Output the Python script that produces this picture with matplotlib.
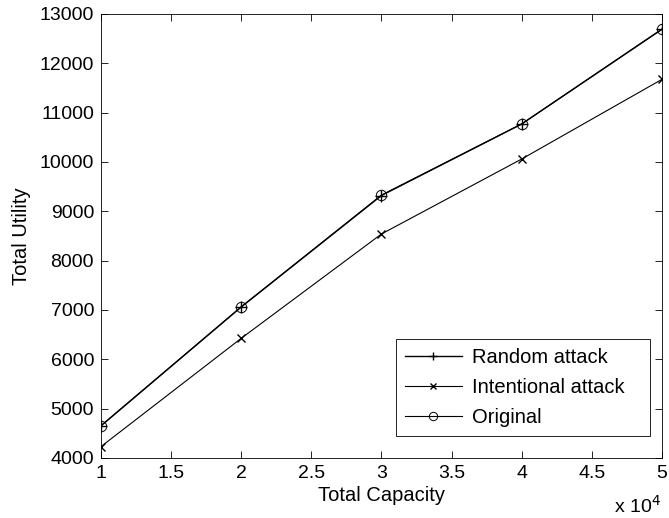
import matplotlib.pyplot as plt

plt.rcParams['font.family'] = ['Liberation Sans', 'DejaVu Sans']

# data (x in units of 10^4)
capacity = [1, 2, 3, 4, 5]
random_attack = [4650, 7060, 9320, 10770, 12690]
intentional_attack = [4230, 6425, 8540, 10060, 11675]
original = [4655, 7065, 9330, 10772, 12695]
series_names = ['Random attack', 'Intentional attack', 'Original']
xticks = [1, 1.5, 2, 2.5, 3, 3.5, 4, 4.5, 5]
xticklabels = ['1', '1.5', '2', '2.5', '3', '3.5', '4', '4.5', '5']
yticks = [4000, 5000, 6000, 7000, 8000, 9000, 10000, 11000, 12000, 13000]

fs = 14

fig = plt.figure(figsize=(6.69, 5.18), dpi=100)
ax = fig.add_axes([0.151, 0.116, 0.8385, 0.857])

# trailing spaces give the MATLAB-like padding on the right of the legend box
ax.plot(capacity, random_attack, 'k-', marker='+', markersize=8, lw=1.0,
        label=series_names[0] + '   ')
ax.plot(capacity, intentional_attack, 'k-', marker='x', markersize=6, lw=0.8,
        label=series_names[1] + '   ')
ax.plot(capacity, original, 'k-', marker='o', markersize=7.5, markerfacecolor='none',
        markeredgewidth=0.7, lw=0.8, label=series_names[2] + '   ')

ax.set_xlim(1, 5)
ax.set_ylim(4000, 13000)
ax.set_xticks(xticks)
ax.set_xticklabels(xticklabels)
ax.set_yticks(yticks)
ax.tick_params(direction='in', top=True, right=True, labelsize=fs, length=5, width=0.6, pad=5)
for s in ax.spines.values():
    s.set_linewidth(0.6)

ax.set_xlabel('Total Capacity', fontsize=fs + 0.5, labelpad=3)
ax.set_ylabel('Total Utility', fontsize=fs + 0.5, labelpad=6)
fig.text(0.988, 0.002, r'x 10$^4$', fontsize=fs, ha='right', va='bottom')

leg = ax.legend(loc='lower right', bbox_to_anchor=(0.979, 0.0495), fontsize=fs + 0.5,
                fancybox=False, edgecolor='black', framealpha=1, handlelength=2.8,
                handletextpad=0.5, borderpad=0.45, labelspacing=0.55, borderaxespad=0,
                markerscale=0.8)
leg.get_frame().set_linewidth(0.6)

fig.savefig('out.png', dpi=100)
